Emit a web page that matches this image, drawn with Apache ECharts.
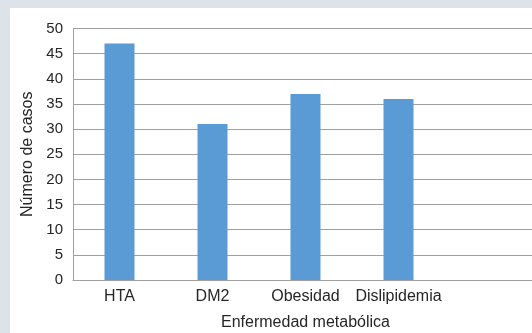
<!DOCTYPE html>
<html>
<head>
<meta charset="utf-8">
<script src="https://cdn.jsdelivr.net/npm/echarts@6/dist/echarts.min.js"></script>
<style>
  html, body { margin: 0; padding: 0; width: 532px; height: 333px; overflow: hidden; background: #dee2e9; }
  #chart { position: absolute; left: 10px; top: 8px; width: 528px; height: 325px; background: #ffffff; }
</style>
</head>
<body>
<div id="chart"></div>
<script>
// categorías (la última vacía, el eje deja un hueco a la derecha)
let categorias = ["HTA", "DM2", "Obesidad", "Dislipidemia", ""];
let casos = [47, 31, 37, 36, null];
let yTicks = [0, 5, 10, 15, 20, 25, 30, 35, 40, 45, 50];

let myChart = echarts.init(document.getElementById("chart"));
let option = {
    animation: false,
    textStyle: { fontFamily: "Liberation Sans, Arial, sans-serif" },
    grid: { left: 63, right: 0, top: 20.5, bottom: 53, outerBoundsMode: "none" },
    xAxis: {
        type: "category",
        data: categorias,
        name: "Enfermedad metabólica",
        nameLocation: "middle",
        nameGap: 35,
        nameTextStyle: { fontSize: 16, color: "#262626" },
        axisLine: { lineStyle: { color: "#a0a0a0", width: 1 } },
        axisTick: { show: false },
        axisLabel: { fontSize: 16, color: "#262626", margin: 9, interval: 0 }
    },
    yAxis: {
        type: "value",
        min: yTicks[0],
        max: yTicks[yTicks.length - 1],
        interval: 5,
        name: "Número de casos",
        nameLocation: "middle",
        nameGap: 36,
        nameTextStyle: { fontSize: 16, color: "#262626" },
        axisLine: { show: true, lineStyle: { color: "#a0a0a0", width: 1 } },
        axisTick: { show: false },
        axisLabel: { fontSize: 15, color: "#262626", margin: 10 },
        splitLine: { lineStyle: { color: "#a0a0a0", width: 1 } }
    },
    series: [{
        type: "bar",
        data: casos,
        barWidth: 30,
        itemStyle: { color: "#5b9bd5" }
    }]
};
myChart.setOption(option);
</script>
</body>
</html>
